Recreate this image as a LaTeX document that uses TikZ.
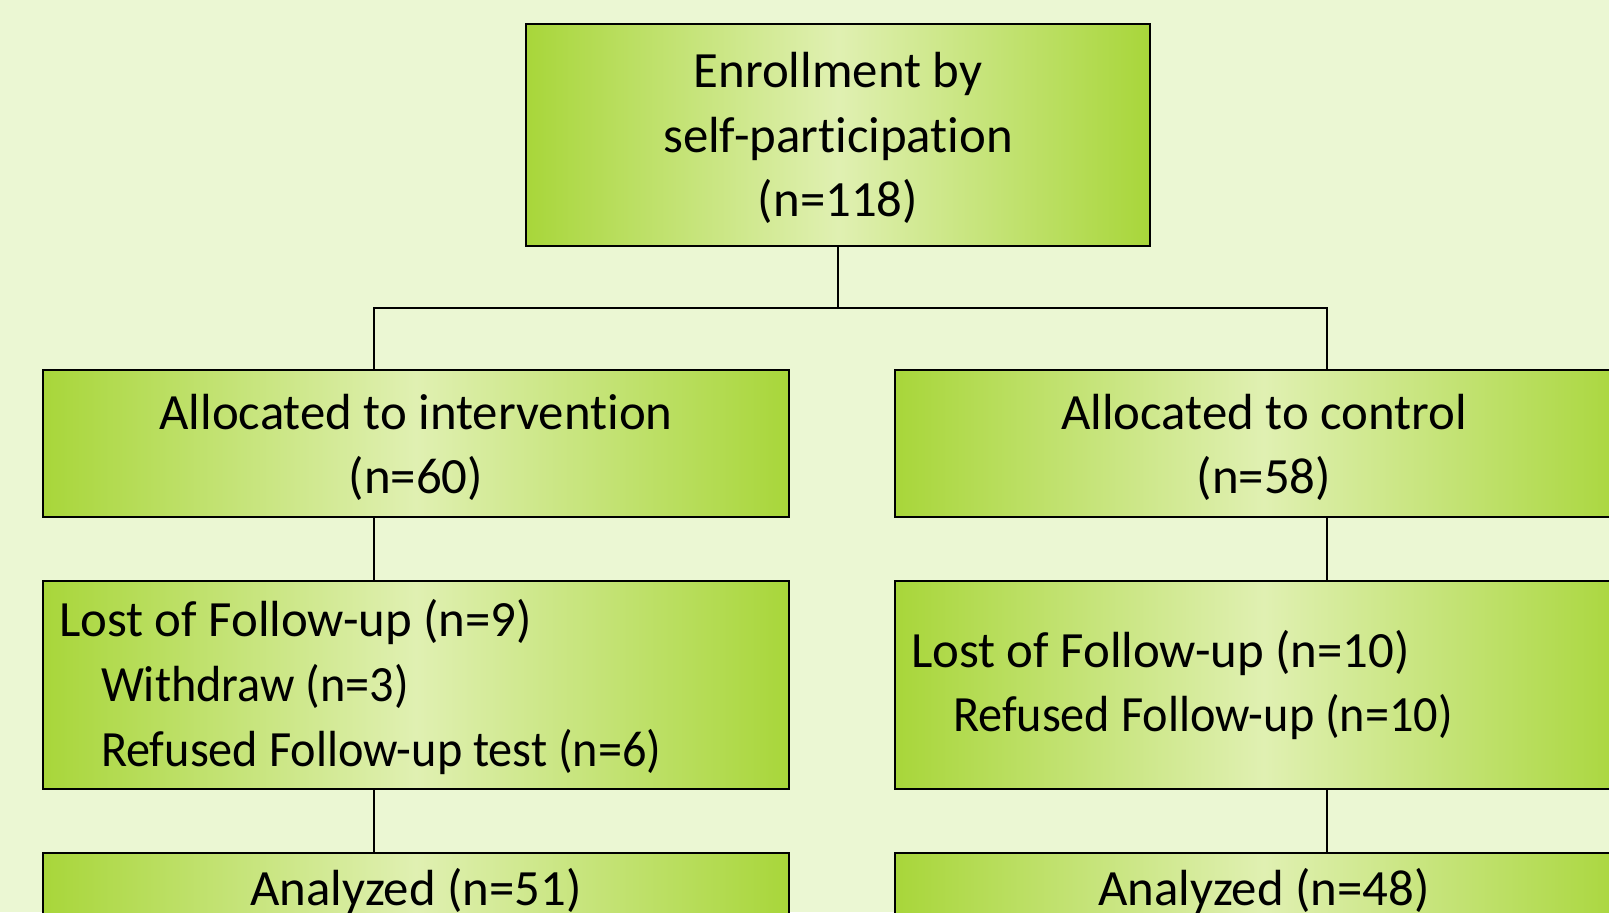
\documentclass[tikz,border=0pt]{standalone}
\usepackage{fontspec}
\setmainfont{Carlito}[Ligatures=NoCommon]
\newfontfamily\narrowfont{Carlito}[Ligatures=NoCommon, FakeStretch=0.95]
\usetikzlibrary{positioning}
\definecolor{bggreen}{RGB}{235,247,211}
\definecolor{edgegreen}{RGB}{168,214,58}
\definecolor{midgreen}{RGB}{224,240,178}
\newcommand{\toplift}[1]{\rule{0pt}{\dimexpr\fontcharht\font`(+#1\relax}}
\newcommand{\subline}[1]{\hspace*{21pt}{\narrowfont #1}}
\tikzset{cbox/.style={draw, line width=1pt, left color=edgegreen, right color=edgegreen, middle color=midgreen, inner sep=0pt, align=center, font=\fontsize{25.4}{32.3}\selectfont}}
\tikzset{lbox/.style={cbox, align=left, inner xsep=8pt, text width=#1, minimum height=104pt, execute at begin node={\spaceskip=0pt\xspaceskip=0pt}}}
\tikzset{link/.style={draw, line width=1pt}}

\begin{document}
\begin{tikzpicture}[x=1pt, y=1pt]
	\fill[bggreen] (0,0) rectangle (804.5,-456);
	\clip (0,0) rectangle (804.5,-456);
	\useasboundingbox (0,0) rectangle (804.5,-456);
	%
	\node[cbox, minimum width=312pt, minimum height=111pt] (enrol) at (419,-67.5)
		{\toplift{2pt}Enrollment by\\self-participation\\(n=118)};
	\node[cbox, minimum width=373pt, minimum height=73.5pt] (allocI) at (208,-221.75)
		{\toplift{3pt}Allocated to intervention\\(n=60)};
	\node[cbox, minimum width=369pt, minimum height=73.5pt, right=52pt of allocI] (allocC)
		{\toplift{3pt}Allocated to control\\(n=58)};
	%
	\node[lbox=357pt, below=31pt of allocI] (lostI)
		{\toplift{2pt}Lost of Follow-up (n=9)\\\subline{Withdraw (n=3)}\\\subline{Refused Follow-up test (n=6)}};
	\node[lbox=353pt, below=31pt of allocC] (lostC)
		{Lost of Follow-up (n=10)\\\subline{Refused Follow-up (n=10)}};
	%
	\node[cbox, minimum width=373pt, minimum height=37.5pt, below=31pt of lostI] (anaI) {Analyzed (n=51)};
	\node[cbox, minimum width=369pt, minimum height=37.5pt, below=31pt of lostC] (anaC) {Analyzed (n=48)};
	%
	\coordinate (split) at (419,-154);
	\coordinate (spineL) at (186.75,0);
	\coordinate (spineR) at (663.5,0);
	\draw[link] (enrol.south) -- (split);
	\draw[link] (allocI.north -| spineL) |- (split) -| (allocC.north -| spineR);
	\draw[link] (allocI.south -| spineL) -- (lostI.north -| spineL);
	\draw[link] (allocC.south -| spineR) -- (lostC.north -| spineR);
	\draw[link] (lostI.south -| spineL) -- (anaI.north -| spineL);
	\draw[link] (lostC.south -| spineR) -- (anaC.north -| spineR);
\end{tikzpicture}
\end{document}
